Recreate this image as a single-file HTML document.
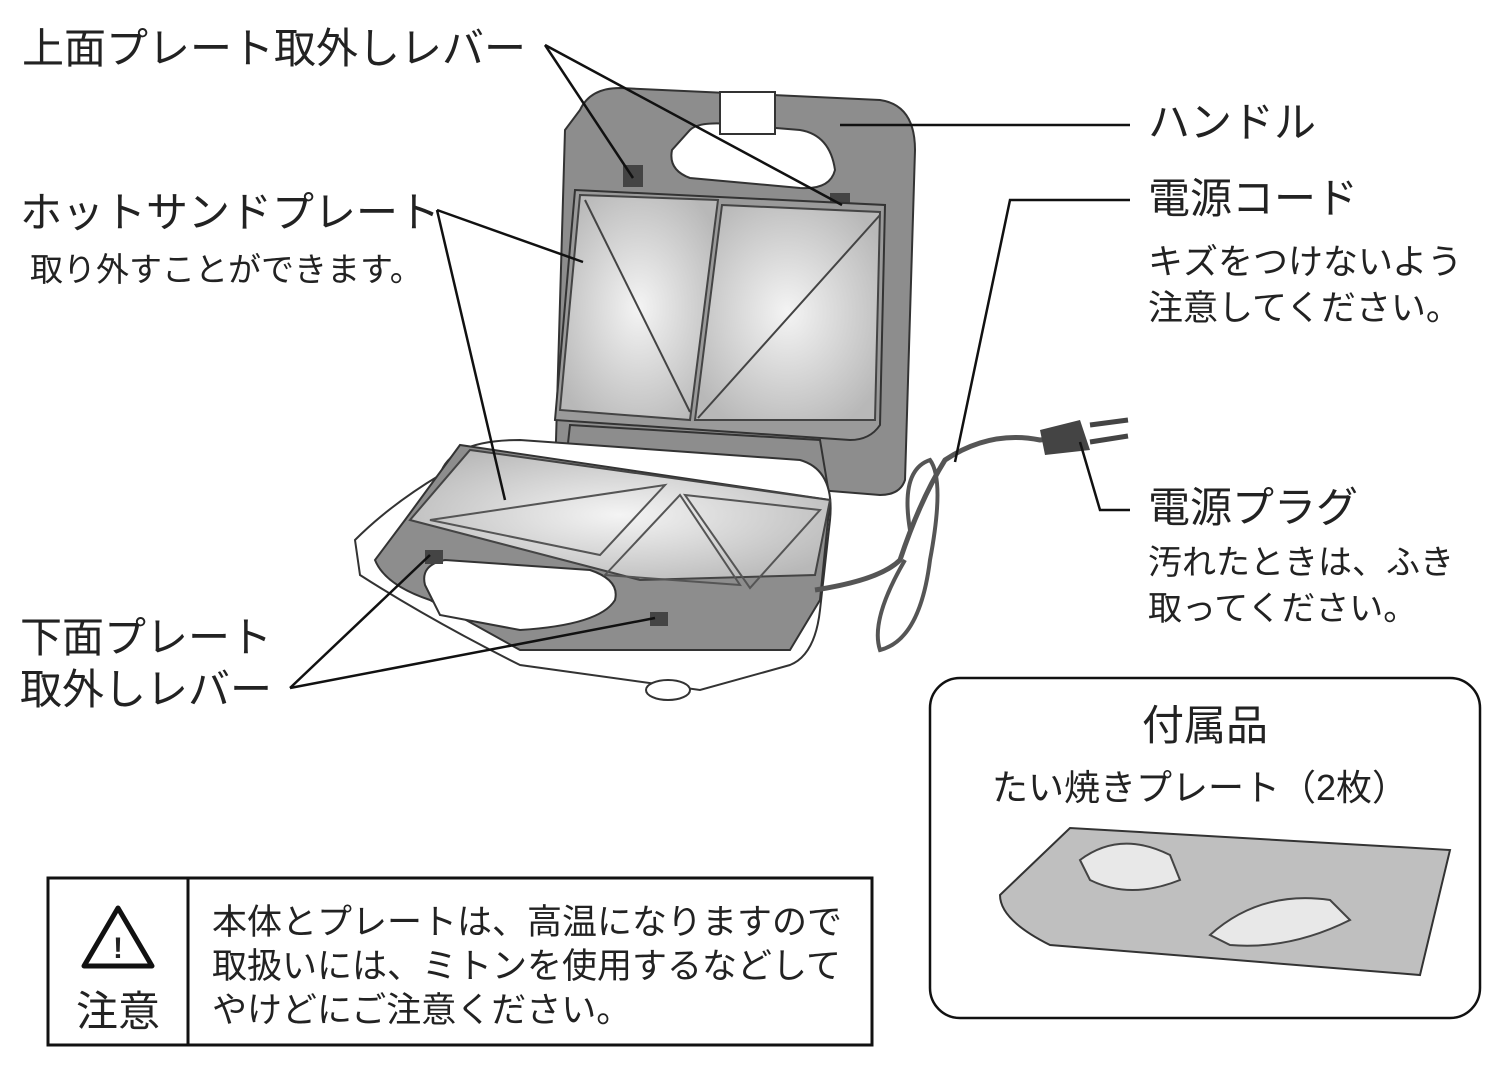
<!DOCTYPE html>
<html><head><meta charset="utf-8"><style>
html,body{margin:0;padding:0;background:#fff}
svg{display:block}
text{font-family:"Liberation Sans","Noto Sans CJK JP",sans-serif;fill:#222}
</style></head><body>
<svg width="1500" height="1075" viewBox="0 0 1500 1075">
<defs>
<radialGradient id="pl" cx="0.5" cy="0.5" r="0.6"><stop offset="0" stop-color="#f4f4f4"/><stop offset="1" stop-color="#b8b8b8"/></radialGradient>
</defs>
<!-- upper lid -->
<path d="M580,110 Q590,88 620,88 L880,100 Q915,105 915,150 L905,480 Q900,495 880,495 L570,470 Q555,465 556,440 L565,130 Z" fill="#8d8d8d" stroke="#333" stroke-width="2"/>
<path d="M690,130 Q700,120 740,125 L800,130 Q830,135 835,170 Q830,190 800,188 L690,178 Q668,170 672,150 Z" fill="#fff" stroke="#333" stroke-width="2"/>
<rect x="720" y="92" width="55" height="42" fill="#fff" stroke="#333" stroke-width="2"/>
<rect x="623" y="165" width="20" height="22" fill="#444"/>
<rect x="830" y="193" width="20" height="22" fill="#444"/>
<!-- upper plates -->
<path d="M575,190 L885,205 L880,425 Q870,440 850,440 L555,420 Z" fill="#9a9a9a" stroke="#333" stroke-width="2"/>
<path d="M580,195 L718,200 L690,420 L560,410 Z" fill="url(#pl)" stroke="#444" stroke-width="2"/>
<path d="M722,205 L880,212 L875,420 L695,420 Z" fill="url(#pl)" stroke="#444" stroke-width="2"/>
<path d="M585,200 L690,412" stroke="#444" stroke-width="2"/>
<path d="M880,215 L698,418" stroke="#444" stroke-width="2"/>
<!-- hinge -->
<path d="M570,425 L820,440 L830,500 L565,470 Z" fill="#8d8d8d" stroke="#333" stroke-width="2"/>
<!-- base -->
<path d="M440,475 Q450,440 520,440 L800,460 Q835,470 830,520 L820,610 Q815,655 790,665 L700,690 L520,665 Q430,620 360,575 L355,540 Q390,505 440,475 Z" fill="#fff" stroke="#333" stroke-width="2"/>
<path d="M405,520 L460,445 L830,500 L820,600 L790,650 L520,650 L430,600 Q385,585 375,560 Z" fill="#8d8d8d" stroke="#333" stroke-width="2"/>
<path d="M425,585 Q420,565 445,560 L590,570 Q620,580 615,600 Q600,625 520,630 L440,615 Z" fill="#fff" stroke="#333" stroke-width="2"/>
<path d="M410,520 L470,450 L830,500 L815,575 L640,580 Z" fill="url(#pl)" stroke="#444" stroke-width="2"/>
<path d="M430,520 L665,485 L600,555 Z" fill="none" stroke="#555" stroke-width="2"/>
<path d="M605,575 L680,495 L740,585 Z" fill="none" stroke="#555" stroke-width="2"/>
<path d="M685,495 L820,510 L750,588 Z" fill="none" stroke="#555" stroke-width="2"/>
<rect x="425" y="550" width="18" height="14" fill="#444"/>
<rect x="650" y="612" width="18" height="14" fill="#444"/>
<ellipse cx="668" cy="690" rx="22" ry="10" fill="#fff" stroke="#333" stroke-width="2"/>
<!-- cord -->
<path d="M815,590 Q880,580 900,560 Q920,500 945,460 Q990,430 1040,440 L1080,436" fill="none" stroke="#555" stroke-width="5"/>
<path d="M905,560 Q870,620 880,650 Q920,640 930,560 Q945,480 930,460 Q900,470 910,530" fill="none" stroke="#555" stroke-width="4"/>
<path d="M1040,430 L1080,420 L1090,450 L1045,455 Z" fill="#444"/>
<path d="M1090,425 L1128,420 M1090,442 L1128,436" stroke="#444" stroke-width="5"/>
<!-- leader lines -->
<g stroke="#111" stroke-width="2.5" fill="none">
<path d="M545,45 L633,178"/><path d="M545,45 L842,205"/>
<path d="M840,125 L1130,125"/>
<path d="M955,462 L1010,200 L1130,200"/>
<path d="M1080,442 L1100,510 L1130,510"/>
<path d="M437,210 L583,262"/><path d="M437,210 L505,500"/>
<path d="M290,688 L430,555"/><path d="M290,688 L655,618"/>
</g>
<!-- labels -->
<text x="22" y="63" font-size="42">上面プレート取外しレバー</text>
<text x="1148" y="137" font-size="42">ハンドル</text>
<text x="20" y="227" font-size="42">ホットサンドプレート</text>
<text x="30" y="281" font-size="33">取り外すことができます。</text>
<text x="1148" y="213" font-size="42">電源コード</text>
<text x="1148" y="274" font-size="35">キズをつけないよう</text>
<text x="1148" y="320" font-size="35">注意してください。</text>
<text x="1148" y="522" font-size="42">電源プラグ</text>
<text x="1148" y="574" font-size="34">汚れたときは、ふき</text>
<text x="1148" y="620" font-size="34">取ってください。</text>
<text x="20" y="652" font-size="42">下面プレート</text>
<text x="20" y="704" font-size="42">取外しレバー</text>
<!-- accessory box -->
<rect x="930" y="678" width="550" height="340" rx="30" fill="none" stroke="#111" stroke-width="2.5"/>
<text x="1205" y="740" font-size="42" text-anchor="middle">付属品</text>
<text x="1200" y="800" font-size="36" text-anchor="middle">たい焼きプレート（2枚）</text>
<path d="M1000,895 L1070,828 L1450,850 L1420,975 L1050,945 Q1000,920 1000,895 Z" fill="#bfbfbf" stroke="#333" stroke-width="2"/>
<path d="M1080,860 Q1120,830 1170,855 L1180,880 Q1130,900 1090,880 Z" fill="#e8e8e8" stroke="#444" stroke-width="2"/>
<path d="M1210,935 Q1260,890 1330,900 L1350,920 Q1290,950 1230,945 Z" fill="#e8e8e8" stroke="#444" stroke-width="2"/>
<!-- caution box -->
<rect x="48" y="878" width="824" height="167" fill="none" stroke="#111" stroke-width="3"/>
<line x1="188" y1="878" x2="188" y2="1045" stroke="#111" stroke-width="3"/>
<path d="M118,908 L152,966 L84,966 Z" fill="none" stroke="#111" stroke-width="5" stroke-linejoin="round"/>
<text x="118" y="958" font-size="30" text-anchor="middle" font-weight="bold">!</text>
<text x="118" y="1026" font-size="42" text-anchor="middle">注意</text>
<text x="212" y="934" font-size="35">本体とプレートは、高温になりますので</text>
<text x="212" y="978" font-size="35">取扱いには、ミトンを使用するなどして</text>
<text x="212" y="1022" font-size="35">やけどにご注意ください。</text>
</svg>
</body></html>
